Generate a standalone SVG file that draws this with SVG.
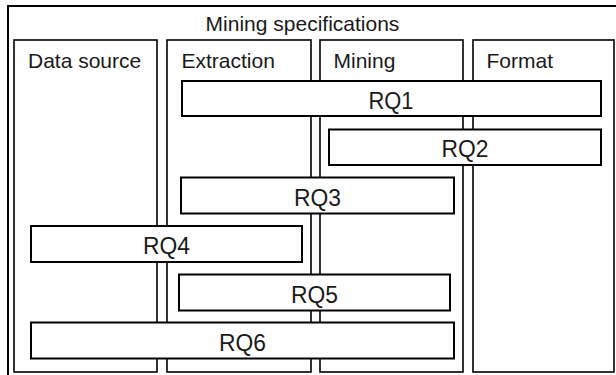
<svg xmlns="http://www.w3.org/2000/svg" width="616" height="375" viewBox="0 0 616 375">
<style>
  .box { fill: #ffffff; stroke: #000000; stroke-width: 2; }
  .col { fill: #ffffff; stroke: #000000; stroke-width: 1.6; }
  .bar { fill: #ffffff; stroke: #000000; stroke-width: 2; }
  text { font-family: "Liberation Sans", Arial, sans-serif; font-size: 21px; fill: #1a1a1a; }
  .c { text-anchor: middle; }
  .rq { font-size: 24px; }
</style>
<rect width="616" height="375" fill="#ffffff"/>
<g id="outer">
  <rect class="box" x="8" y="6" width="620" height="380"/>
  <text class="c" x="302.5" y="30.5">Mining specifications</text>
</g>
<g id="col-datasource">
  <rect class="col" x="14" y="40" width="143" height="332"/>
  <text x="28" y="68">Data source</text>
</g>
<g id="col-extraction">
  <rect class="col" x="167" y="40" width="144" height="332"/>
  <text x="181.5" y="68">Extraction</text>
</g>
<g id="col-mining">
  <rect class="col" x="320" y="40" width="143" height="332"/>
  <text x="333.5" y="68">Mining</text>
</g>
<g id="col-format">
  <rect class="col" x="473" y="40" width="141" height="332"/>
  <text x="486.5" y="68">Format</text>
</g>
<g id="connectors"></g>
<g id="RQ1">
  <rect class="bar" x="182" y="81" width="419" height="35"/>
  <text class="c rq" x="391" y="108.5" textLength="45" lengthAdjust="spacingAndGlyphs">RQ1</text>
</g>
<g id="RQ2">
  <rect class="bar" x="329" y="129.5" width="272" height="35.5"/>
  <text class="c rq" x="465" y="157" textLength="47" lengthAdjust="spacingAndGlyphs">RQ2</text>
</g>
<g id="RQ3">
  <rect class="bar" x="181" y="177.5" width="273" height="36"/>
  <text class="c rq" x="317.5" y="205.5" textLength="47" lengthAdjust="spacingAndGlyphs">RQ3</text>
</g>
<g id="RQ4">
  <rect class="bar" x="31" y="226" width="271" height="36"/>
  <text class="c rq" x="166.5" y="254" textLength="47" lengthAdjust="spacingAndGlyphs">RQ4</text>
</g>
<g id="RQ5">
  <rect class="bar" x="179" y="274.5" width="271" height="36"/>
  <text class="c rq" x="314.5" y="302.5" textLength="47" lengthAdjust="spacingAndGlyphs">RQ5</text>
</g>
<g id="RQ6">
  <rect class="bar" x="31" y="322.5" width="423" height="36"/>
  <text class="c rq" x="242.5" y="350.5" textLength="47" lengthAdjust="spacingAndGlyphs">RQ6</text>
</g>
</svg>
